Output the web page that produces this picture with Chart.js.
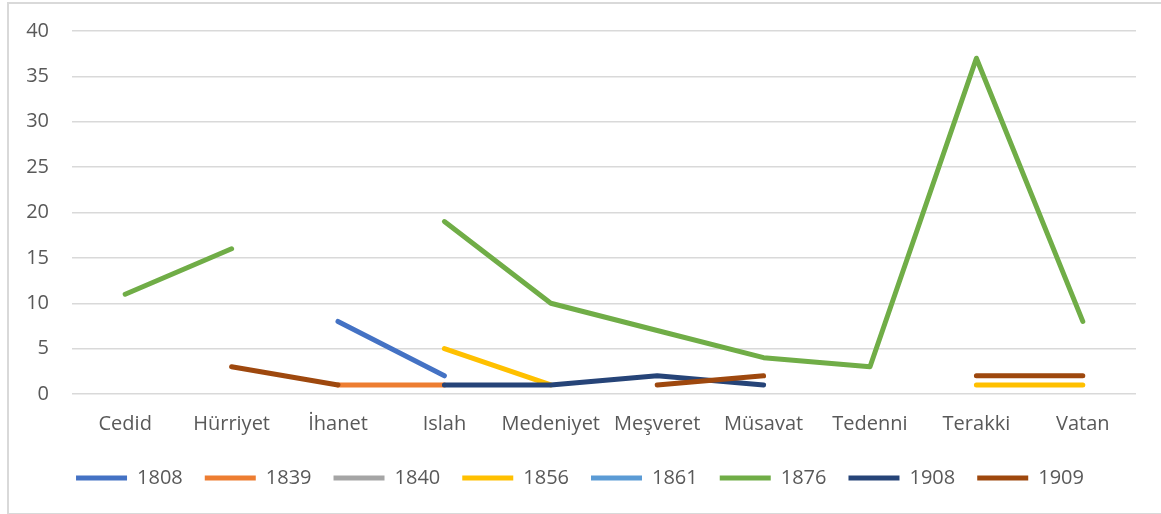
<!DOCTYPE html>
<html>
<head>
<meta charset="utf-8">
<script src="https://cdn.jsdelivr.net/npm/chart.js@4"></script>
<style>
  html, body { margin: 0; padding: 0; background: #fff; overflow: hidden; }
  #frame { position: absolute; left: 7px; top: 2px; width: 1170px; height: 509px; border: 2px solid #d9d9d9; }
  #wrap { position: absolute; left: 0; top: 0; width: 1161px; height: 514px; }
</style>
</head>
<body>
<div id="frame"></div>
<div id="wrap"><canvas id="chart" width="1161" height="514"></canvas></div>
<script>
const categories = ['Cedid', 'Hürriyet', 'İhanet', 'Islah', 'Medeniyet', 'Meşveret', 'Müsavat', 'Tedenni', 'Terakki', 'Vatan'];
const seriesNames = ['1808', '1839', '1840', '1856', '1861', '1876', '1908', '1909'];
const s1808 = [null, null, 8, 2, null, null, null, null, null, null];
const s1839 = [null, null, 1, 1, null, null, null, null, null, null];
const s1840 = [null, null, null, null, null, null, null, null, null, null];
const s1856 = [null, null, null, 5, 1, null, null, null, 1, 1];
const s1861 = [null, null, null, null, null, null, null, null, null, null];
const s1876 = [11, 16, null, 19, 10, 7, 4, 3, 37, 8];
const s1908 = [null, null, null, 1, 1, 2, 1, null, null, null];
const s1909 = [null, 3, 1, null, null, 1, 2, null, 2, 2];
const yTicks = [0, 5, 10, 15, 20, 25, 30, 35, 40];

const seriesValues = [s1808, s1839, s1840, s1856, s1861, s1876, s1908, s1909];
const colors = ['#4472C4', '#ED7D31', '#A5A5A5', '#FFC000', '#5B9BD5', '#70AD47', '#264478', '#9E480E'];

const font = { family: 'Open Sans', size: 20 };

const datasets = seriesNames.map((name, i) => ({
    label: name,
    data: seriesValues[i],
    borderColor: colors[i],
    backgroundColor: colors[i],
    borderWidth: 5,
    borderCapStyle: 'round',
    borderJoinStyle: 'round',
    pointRadius: 0,
    pointHoverRadius: 0,
    spanGaps: false,
    tension: 0,
    order: seriesNames.length - i   // later series drawn on top, like Excel
}));

new Chart(document.getElementById('chart'), {
    type: 'line',
    data: { labels: categories, datasets: datasets },
    options: {
        responsive: false,
        animation: false,
        layout: { padding: { top: 31, right: 25, bottom: 16, left: 24 } },
        scales: {
            x: {
                offset: true,
                grid: { display: false },
                border: { display: false },
                afterFit: (scale) => { scale.height = 52; },
                ticks: { color: '#595959', font: font, padding: 10, maxRotation: 0, autoSkip: false }
            },
            y: {
                min: 0,
                max: 40,
                afterBuildTicks: (scale) => { scale.ticks = yTicks.map(v => ({ value: v })); },
                afterFit: (scale) => {
                    scale.width = 48;
                    // tick padding is only horizontal here
                    scale.paddingTop = 0;
                    scale.paddingBottom = 0;
                },
                grid: { color: '#d9d9d9', lineWidth: 1.5, drawTicks: false },
                border: { display: false },
                ticks: { color: '#595959', font: font, padding: 23 }
            }
        },
        plugins: {
            tooltip: { enabled: false },
            legend: {
                position: 'bottom',
                labels: {
                    color: '#595959',
                    font: font,
                    usePointStyle: true,
                    pointStyle: 'line',
                    pointStyleWidth: 51,
                    boxHeight: 5,
                    padding: 22,
                    sort: (a, b) => a.datasetIndex - b.datasetIndex
                }
            }
        }
    }
});
</script>
</body>
</html>
